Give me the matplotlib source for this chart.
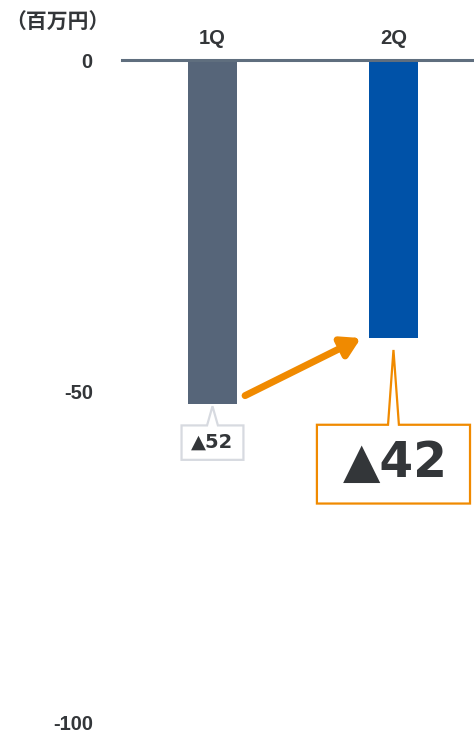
import matplotlib
matplotlib.use("Agg")
import matplotlib.pyplot as plt
from matplotlib.patches import Polygon

plt.rcParams['font.family'] = ['Liberation Sans', 'Noto Sans CJK JP', 'DejaVu Sans']

categories = ["1Q", "2Q"]
values = [-52, -42]
labels = ["▲52", "▲42"]
yticks = [0, -50, -100]
unit_label = "（百万円）"

bar_colors = ["#566579", "#0052a8"]
orange = "#f08a00"
text_dark = "#333639"

fig = plt.figure(figsize=(4.74, 7.35), dpi=100)
ax = fig.add_axes([122/474, 13/735, 352/474, 662/735])
x = list(range(len(categories)))
ax.bar(x, values, width=0.27, color=bar_colors, zorder=2)
ax.set_xlim(-0.5, 1.445)
ax.set_ylim(-100, 0)
for s in ax.spines.values():
    s.set_visible(False)
ax.axhline(0, color="#5f6e7e", lw=2.2, zorder=3, clip_on=False)

ax.set_yticks(yticks)
ax.set_yticklabels([str(t) for t in yticks],
                   fontdict=dict(fontsize=14.5, fontweight='bold', color=text_dark))
ax.tick_params(axis='y', length=0, pad=21)
ax.xaxis.tick_top()
ax.set_xticks(x)
ax.set_xticklabels(categories,
                   fontdict=dict(fontsize=14.5, fontweight='bold', color=text_dark))
ax.tick_params(axis='x', length=0, pad=9)

fig.text(5/474, 1 - 22/735, unit_label, fontsize=15, fontweight='bold',
         color=text_dark, va='center', ha='left',
         family=['Noto Sans CJK JP', 'DejaVu Sans'])

def callout(xc, tip_y, top_y, bot_y, half_w, notch_half, color, lw):
    pts = [(xc, tip_y), (xc + notch_half, top_y), (xc + half_w, top_y),
           (xc + half_w, bot_y), (xc - half_w, bot_y), (xc - half_w, top_y),
           (xc - notch_half, top_y)]
    p = Polygon(pts, closed=True, facecolor='white', edgecolor=color, lw=lw,
                zorder=4, joinstyle='miter')
    ax.add_patch(p)

v1, v2 = values
callout(x[0], v1 - 0.3, v1 - 3.2, v1 - 8.4, 0.171, 0.03, "#d7dae0", 1.6)
ax.text(x[0], v1 - 5.8, labels[0], ha='center', va='center', fontsize=14,
        fontweight='bold', color=text_dark, zorder=5,
        family=['DejaVu Sans'])

callout(x[1], v2 - 1.8, v2 - 13.1, v2 - 25.0, 0.423, 0.03, orange, 1.6)
ax.text(x[1] + 0.01, v2 - 18.8, labels[1], ha='center', va='center', fontsize=35,
        fontweight='bold', color=text_dark, zorder=5,
        family=['DejaVu Sans'])

ax.annotate("", xy=(x[1] - 0.18, v2), xytext=(x[0] + 0.18, v1 + 1.3),
            arrowprops=dict(arrowstyle="-|>,head_length=1.1,head_width=0.65",
                            color=orange, lw=5, shrinkA=0, shrinkB=0),
            zorder=5)

fig.savefig("out.png", dpi=100)
